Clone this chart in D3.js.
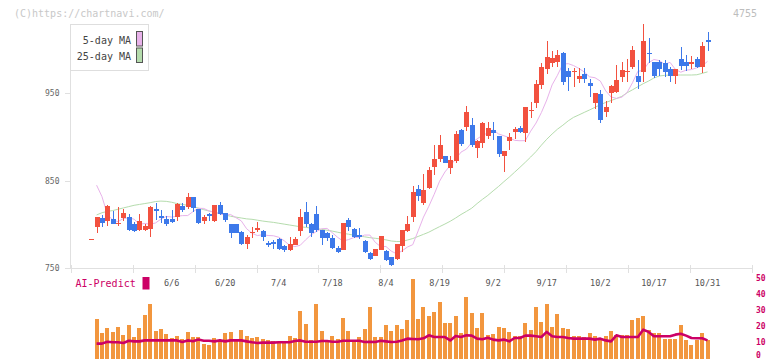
<!DOCTYPE html>
<html><head><meta charset="utf-8">
<script src="https://cdn.jsdelivr.net/npm/d3@7"></script>
<style>html,body{margin:0;padding:0;background:#fff;}svg{display:block;}text{font-family:"DejaVu Sans Mono","Liberation Mono",monospace;}</style>
</head><body><svg id="c" width="772" height="361"></svg>
<script>
const dates = ["5/16","5/19","5/20","5/21","5/22","5/23","5/26","5/27","5/28","5/29","5/30",
"6/2","6/3","6/4","6/5","6/6","6/9","6/10","6/11","6/12","6/13","6/16","6/17","6/18","6/19","6/20",
"6/23","6/24","6/25","6/26","6/27","6/30","7/1","7/2","7/3","7/4","7/7","7/8","7/9","7/10","7/11",
"7/14","7/15","7/16","7/17","7/18","7/22","7/23","7/24","7/25","7/28","7/29","7/30","7/31","8/1","8/4",
"8/5","8/6","8/7","8/8","8/12","8/13","8/14","8/15","8/18","8/19","8/20","8/21","8/22","8/25","8/26",
"8/27","8/28","8/29","9/1","9/2","9/3","9/4","9/5","9/8","9/9","9/10","9/11","9/12","9/16","9/17",
"9/18","9/19","9/22","9/24","9/25","9/26","9/29","9/30","10/1","10/2","10/3","10/6","10/7","10/8","10/9",
"10/10","10/14","10/15","10/16","10/17","10/20","10/21","10/22","10/23","10/24","10/27","10/28","10/29","10/30","10/31"];

const open = [784,797.5,808,804.4,806.3,800.2,807.8,808.6,800.6,793.7,793.7,795.2,817.7,809.3,805.9,805.9,809,821.2,820.4,831.4,
818.1,804.4,812.4,804.4,822.3,813.2,800.6,800.6,791.8,777.7,791.1,795.2,792.6,779.2,780.4,783.1,775.4,770.9,777,793,
814.3,800.6,812,793.7,790.7,784.2,773.5,770.9,805.2,794.9,788,781.2,767,764,770.9,769.7,762.5,760.6,775.4,792.6,
808.9,840.6,825,841.4,866.1,874.5,878.3,865,873,908,911.9,913.8,887.9,893.6,901.2,908,901.2,878.3,895.5,906.2,
910.7,905,929.8,939.3,960,978,985,986,996.4,975.5,974,966.3,972,962.1,939.3,949.2,929,950,951.9,969,
975.8,980.4,969.8,974.7,996.4,986.1,986.1,985,977.8,970.1,988.8,986.1,985.4,989.2,980.4,1011];
const high = [784,809,811,822.7,815.4,819.6,817.7,812,803.2,812.4,800.6,821.2,825,816.6,809.3,816.6,824.2,824.2,836.4,831.4,
818.1,810.9,813.5,822.3,825.7,813.2,800.6,800.6,792.6,788,796.8,803.2,793.7,781.5,782.3,784.2,776.6,786.1,786.1,817.7,
825.7,801.3,821.2,793.7,791.8,788,775.4,802.1,807.8,795.6,796.4,782.3,768.6,772.4,787.2,770.5,763.2,778.1,793.7,809.7,
844,845.2,857.8,865.4,890.9,902.3,878.3,878.3,907.3,909.2,935.5,921.4,896.6,917.6,917.6,916.8,901.2,884.4,905,911.9,
912.6,934.7,940.4,965,985,1010,998,1000,997.5,978.5,978.5,979.3,979.3,966,950.7,953.8,941.6,959.5,982.3,986.1,
989.2,1004,988,1029.2,1012.8,986.1,988,988,980.4,977.8,1002.5,993.8,992.6,991.1,1009,1019.7];
const low = [784,790,797.5,798.3,800.2,798.7,804.4,793,791.8,793,793,786.1,805.2,801.3,798.7,802.1,804,814.7,818.1,814.7,
800.6,800.6,804.4,802.9,810.9,802.5,785,790.7,776.6,771.6,785,791.8,781.5,774.7,771.6,770.9,769,769.7,776.6,787.2,
797.5,785.3,791.1,776.6,781.5,772.4,767,770.9,793,784.2,783.4,767.8,759.4,763.6,770.5,758.7,752.6,759.4,769,791.4,
803.3,827.3,822,840.6,856.6,871.9,870,857.8,870,890,907.3,889,876.4,887.1,898.1,896.6,877.6,860.4,885.2,897.4,
905,894.7,921.4,932.8,955,972,980,980,960,953,957.6,962.2,962.2,945.4,932,916.4,922.5,938.5,950.7,963.3,
963.3,977.4,955,963.3,984.2,967.1,969.8,969,963.3,960.6,976.6,975.5,977.4,978.5,973.6,998.7];
const close = [784,809,802,821.2,800.2,802.1,813.2,793.7,793,804,798.3,820,815.8,808.6,800.2,802.9,823.4,816.6,831.1,819.2,
801.7,809,809.3,822.3,811.6,805.5,790.7,790.7,777.7,786.1,791.8,795.6,786.1,776.2,777.7,772,770.5,777.7,783.4,809,
800.2,789.9,793.7,785,784.2,773.5,769,802.1,796.8,786.1,786.1,769,760.6,772,786.9,759.4,753.7,777.7,793.7,800.6,
837.6,833,839.5,862.3,874.9,890.9,870.7,873.8,903.5,892,928.6,890.9,895.5,915.7,910.7,905,880.6,884.4,900.4,908.8,
905.4,934.7,930.6,960.6,980,992,990,994,963.3,969,975.5,970.1,966.3,958.3,950,919.5,934.7,958.3,965.2,976.6,
975.8,999.5,963.3,1009.8,994.5,970.1,977.8,974.7,970.1,977.8,981.6,981.2,985.4,980.4,1004,1009];

const ma5 = [null,845,832,812,805,803.3,806.9,807.7,806.1,800.4,801.2,800.4,801.8,806.2,809.3,808.6,809.5,810.2,810.3,814.8,
818.6,818.4,815.5,814.1,812.3,810.8,811.5,807.9,804.2,795.2,790.1,787.4,788.4,787.5,787.2,785.5,781.5,776.5,774.8,776.3,
782.5,788.2,792,795.2,795.6,790.6,785.3,781.1,782.8,785.1,785.5,788,788,779.7,774.8,774.9,769.6,766.5,769.9,774.3,
777,792.7,808.5,820.9,834.6,849.5,860.1,867.7,874.5,882.8,886.2,893.7,897.8,902.1,904.5,908.3,903.6,901.5,899.3,896.2,
895.8,895.9,906.7,916,928,942.3,959.6,970.6,983.3,983.9,981.7,978.4,974.4,968.8,967.8,964,952.8,945.8,944.2,945.5,
950.9,962.1,975.1,976.1,985,988.6,987.4,983.1,985.4,977.4,974.1,976.4,977.1,979.2,981.3,986.5];
const ma25 = [null,811,813.5,815,816,817.5,819,820.5,822,823,824,825,826.3,826.8,826.5,825.5,824,823,822,820.4,
818.8,817,815.5,814,812.5,811,809.5,808.5,807.5,806.5,806,805,804,803.2,802.5,801.5,800.5,799.5,798.5,797.5,
796.8,796,795.4,794.5,793.5,792.5,791.2,790,789,787.8,786.8,786,785,784.3,783.5,782.5,781.2,780.6,780.6,782.3,
784,786.4,788.8,791.3,794.5,797.6,800.6,803.8,807.5,811.5,815,818.7,824,828.8,833.3,838.5,843.5,849,854.2,859.8,
865.4,871.2,877.2,883.4,890.7,897.5,903.5,909,913.5,918.5,922.5,925.3,928.2,931,934,937,939.5,941.7,944,946.5,
950.6,954,957.5,961,964,967.5,969.8,970.5,970.9,970.9,970.9,970.9,970.9,971.2,972.8,974.5];

const volume = [null,24.2,15.6,18.5,16,19.2,14.2,20.4,12.9,18.5,26.7,33.5,16.7,17.9,14.8,12.3,13.5,11.7,16,12.9,
12.9,8.6,8,12.3,11,15.4,16,11,17.3,13.5,12.3,12.9,11.7,11,10.4,9.8,9.8,13.5,12.3,29.2,
21,11,33.5,16.7,11,13.5,11.7,24.8,16.7,11,12.9,17.9,31.7,12.9,12.9,20.4,16.7,20.4,17.9,23.5,
49.2,24.2,31.7,26,28.5,34.8,21.7,21.7,26,15.4,37.9,27.9,18.5,27.9,14.2,14.8,19.2,18.5,16,13.5,
13.5,21.9,17.3,31.7,22.3,33.5,19.2,27.3,18.5,17.9,13.5,13.5,12.9,15.4,13.5,11,13.5,16.7,14.2,14.2,
14.2,23.5,24.8,26,17.3,15.4,15.4,11.7,11.7,11.7,20.4,11,8,11,15.4,11.3];
const aiPredict = [null,9,9,10.2,9.8,9.8,9.4,10.8,10.4,10.4,11,11,11,11,11,11,11,10,11,10.5,
11.5,10.8,10.8,10.4,11,10.4,11,11,11,10.4,9.8,9.4,9.6,9.6,9.6,9.8,9.8,9.8,10.6,11,
10.2,10.2,10.2,10.6,10.6,10.2,10.2,10.8,10.8,10.8,10.8,10,10.2,10,10.8,10.4,10,10.2,11,12.1,
11.9,11.7,12.3,14.2,13.1,13.1,13.1,11,13.8,13.1,14.2,14,12.1,11.7,12.7,11.5,11,11.5,10.4,12.5,
12.5,14,14,13.6,13.1,16.3,13.6,13.1,13.1,12.5,12.1,12.1,12.1,12.1,11.5,12.1,11,10.4,14.2,13.1,
13.1,13.1,13.1,17.7,16.3,13.6,13.6,13.6,13.6,14.6,15.2,14,12.5,12.3,12.3,11];

const priceTicks = [750, 850, 950];
const volTicks = [0, 10, 20, 30, 40, 50];
const dateTickLabels = ["6/6","6/20","7/4","7/18","8/4","8/19","9/2","9/17","10/2","10/17","10/31"];
const legendLabels = ["5-day MA", "25-day MA"];
const code = "4755";
const watermark = "(C)https://chartnavi.com/";
const aiLabel = "AI-Predict";

const RED = "#f2513f", BLUE = "#3d79ea", PINK = "#e8b2ea", GREEN = "#b5dcad", ORANGE = "#f2963e", MAG = "#cc0066";

const svg = d3.select("#c");
const n = dates.length;
const x = d3.scaleLinear().domain([-3.83, 123.3]).range([70.7, 752]);
const y = d3.scaleLinear().domain([750, 950]).range([268.3, 93.3]);
const yv = d3.scaleLinear().domain([0, 50]).range([358, 278]);
const frame = d3.scaleLinear().domain([0, 11]).range([70.7, 752]);

// watermark & code
svg.append("text").attr("x", 14).attr("y", 16.5).attr("font-size", 10).attr("fill", "#c8c8c8").text(watermark);
svg.append("text").attr("x", 757).attr("y", 16.5).attr("text-anchor", "end").attr("font-size", 10).attr("fill", "#bdbdbd").text(code);

// axes lines
const axisG = svg.append("g").attr("stroke", "#e0e0e0").attr("shape-rendering", "crispEdges");
axisG.append("line").attr("x1", 70.5).attr("x2", 70.5).attr("y1", 24).attr("y2", 268.5);
axisG.append("line").attr("x1", 70.5).attr("x2", 752.5).attr("y1", 268.5).attr("y2", 268.5);
axisG.selectAll(".xt").data(d3.range(0, 12)).join("line")
  .attr("x1", d => Math.round(frame(d)) + 0.5).attr("x2", d => Math.round(frame(d)) + 0.5)
  .attr("y1", 265).attr("y2", 272.5);
axisG.selectAll(".yt").data(priceTicks).join("line")
  .attr("x1", 65).attr("x2", 70.5).attr("y1", d => Math.round(y(d)) + 0.5).attr("y2", d => Math.round(y(d)) + 0.5);

svg.selectAll(".ylab").data(priceTicks).join("text")
  .attr("x", 59.5).attr("y", d => y(d)).attr("dy", "0.35em").attr("text-anchor", "end")
  .attr("font-size", 8).attr("fill", "#666").text(d => d);

svg.selectAll(".xlab").data(dateTickLabels).join("text")
  .attr("x", d => x(dates.indexOf(d))).attr("y", 283).attr("dy", "0.35em").attr("text-anchor", "middle")
  .attr("font-size", 8.5).attr("fill", "#555").text(d => d);

// legend
const lg = svg.append("g");
lg.append("rect").attr("x", 70.5).attr("y", 24.5).attr("width", 78).attr("height", 46).attr("fill", "#fff").attr("stroke", "#dedede");
lg.selectAll("text").data(legendLabels).join("text")
  .attr("x", 131).attr("y", (d, i) => 40 + i * 16).attr("dy", "0.35em").attr("text-anchor", "end")
  .attr("font-size", 10).attr("fill", "#444").text(d => d);
lg.selectAll(".sw").data([PINK, GREEN]).join("rect")
  .attr("x", 136.5).attr("y", (d, i) => 31.5 + i * 16.5).attr("width", 6).attr("height", 14.5)
  .attr("fill", d => d).attr("stroke", "#555");

// moving averages
const line = arr => d3.line().defined(i => arr[i] != null).x(i => x(i)).y(i => y(arr[i]))(d3.range(n));
svg.append("path").attr("d", line(ma25)).attr("fill", "none").attr("stroke", GREEN).attr("stroke-width", 1);
svg.append("path").attr("d", line(ma5)).attr("fill", "none").attr("stroke", PINK).attr("stroke-width", 1);

// candles
const cg = svg.append("g").attr("shape-rendering", "crispEdges");
const col = i => close[i] >= open[i] ? RED : BLUE;
cg.selectAll(".wick").data(d3.range(n)).join("line")
  .attr("x1", i => Math.round(x(i)) + 0.5).attr("x2", i => Math.round(x(i)) + 0.5)
  .attr("y1", i => y(high[i])).attr("y2", i => y(low[i])).attr("stroke", col);
cg.selectAll(".body").data(d3.range(n)).join("rect")
  .attr("x", i => Math.round(x(i)) - 2).attr("width", 5)
  .attr("y", i => y(Math.max(open[i], close[i])))
  .attr("height", i => Math.max(1.2, Math.abs(y(open[i]) - y(close[i]))))
  .attr("fill", col);

// lower panel
svg.append("text").attr("x", 75.5).attr("y", 283.5).attr("dy", "0.35em").attr("font-size", 10).attr("fill", MAG).text(aiLabel);
svg.append("rect").attr("x", 142.5).attr("y", 277).attr("width", 7).attr("height", 12.5).attr("fill", MAG);

const vIdx = d3.range(n).filter(i => volume[i] != null);
svg.append("g").attr("shape-rendering", "crispEdges").selectAll("rect").data(vIdx).join("rect")
  .attr("x", i => Math.round(x(i)) - 2).attr("width", 4)
  .attr("y", i => yv(volume[i])).attr("height", i => 359 - yv(volume[i]))
  .attr("fill", ORANGE);

svg.append("path").attr("d", d3.line().defined(i => aiPredict[i] != null).x(i => x(i)).y(i => yv(aiPredict[i]))(d3.range(n)))
  .attr("fill", "none").attr("stroke", MAG).attr("stroke-width", 2.6).attr("stroke-linejoin", "round");

svg.selectAll(".vlab").data(volTicks).join("text")
  .attr("x", 756).attr("y", d => Math.min(yv(d), 355.5)).attr("dy", "0.35em").attr("font-size", 8).attr("font-weight", "bold")
  .attr("fill", MAG).text(d => d);
</script></body></html>
